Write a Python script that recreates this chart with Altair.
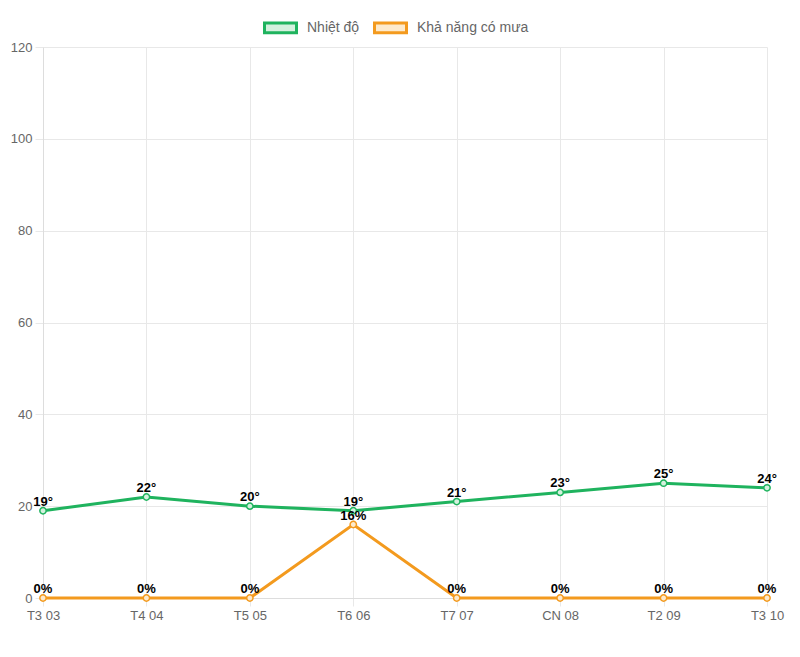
import altair as alt
import pandas as pd

days = ["T3 03", "T4 04", "T5 05", "T6 06", "T7 07", "CN 08", "T2 09", "T3 10"]
temps = [19, 22, 20, 19, 21, 23, 25, 24]
rain = [0, 0, 0, 16, 0, 0, 0, 0]
series_names = ["Nhiệt độ", "Khả năng có mưa"]
line_colors = ["#1fb35e", "#f39a1e"]
fill_colors = ["#d4f1de", "#fdeacc"]
y_ticks = [0, 20, 40, 60, 80, 100, 120]

rows = []
for d, t in zip(days, temps):
    rows.append({"day": d, "value": t, "series": series_names[0], "label": f"{t}°"})
for d, r in zip(days, rain):
    rows.append({"day": d, "value": r, "series": series_names[1], "label": f"{r}%"})
df = pd.DataFrame(rows)

FONT = "Liberation Sans"

base = alt.Chart(df).encode(
    x=alt.X("day:N", sort=days, title=None,
            scale=alt.Scale(type="point", padding=0),
            axis=alt.Axis(labelAngle=0, tickSize=8, labelPadding=3, grid=True)),
    y=alt.Y("value:Q", title=None,
            scale=alt.Scale(domain=[0, 120], nice=False),
            axis=alt.Axis(values=y_ticks, tickSize=8, labelPadding=3, grid=True)),
)

legend_spec = alt.Legend(
    orient="none", legendX=226, legendY=-31, direction="horizontal",
    symbolType="M-1.6,-0.48H1.6V0.48H-1.6Z", symbolSize=400, symbolStrokeWidth=3,
    labelFont=FONT, labelFontSize=14, labelColor="#666666", labelOffset=15,
    columnPadding=8, symbolOpacity=1,
)

stroke_enc = alt.Stroke("series:N", scale=alt.Scale(domain=series_names, range=line_colors),
                        legend=legend_spec, title=None)
fill_enc = alt.Fill("series:N", scale=alt.Scale(domain=series_names, range=fill_colors),
                    legend=legend_spec, title=None)

line = base.mark_line(strokeWidth=3).encode(stroke=stroke_enc)

points = base.mark_point(filled=True, size=40, strokeWidth=1.5, opacity=1).encode(
    stroke=stroke_enc,
    fill=fill_enc,
)

labels = base.mark_text(dy=-9, font=FONT, fontSize=13, fontWeight="bold", color="#000000").encode(
    text="label:N",
)

chart = alt.layer(line, points, labels).properties(
    width=724, height=551,
    autosize=alt.AutoSizeParams(type="none"),
    padding={"left": 35, "top": 39, "right": 25, "bottom": 51},
    background="white",
).configure_view(stroke=None).configure_axis(
    gridColor="#e8e8e8", domainColor="#dddddd", tickColor="#e8e8e8",
    labelFont=FONT, labelFontSize=13, labelColor="#666666",
)

chart.save("out.html", embed_options={"renderer": "svg", "actions": False})
